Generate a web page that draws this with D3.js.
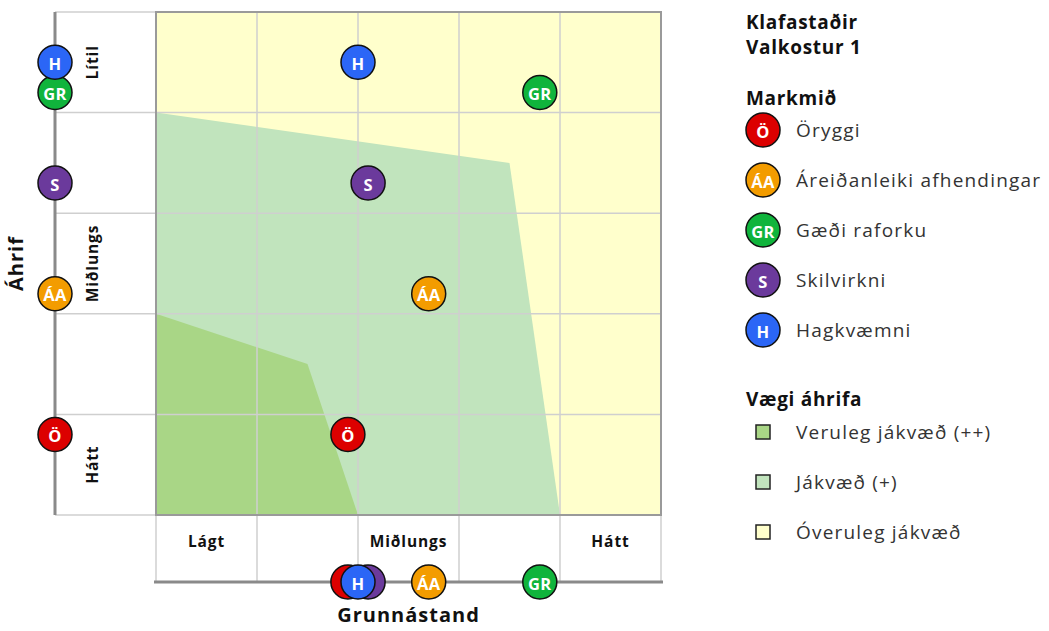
<!DOCTYPE html>
<html>
<head>
<meta charset="utf-8">
<title>Klafastaðir – Valkostur 1</title>
<script src="https://d3js.org/d3.v7.min.js"></script>
<style>
  body { margin: 0; background: #fff; }
  svg text { font-family: "Open Sans", "Noto Sans", sans-serif; }
  .grid line { stroke: #cfcfcf; stroke-width: 1.5; }
  .axisline { stroke: #8a8a8a; stroke-width: 3; }
  .catlbl { font-weight: 700; font-size: 15.5px; letter-spacing: 0.9px; fill: #111; }
  .ttl { font-weight: 700; font-size: 19px; letter-spacing: 0.7px; fill: #111; }
  .axttl { font-weight: 700; font-size: 20px; letter-spacing: 1px; fill: #111; }
  .leg { font-weight: 400; font-size: 19px; letter-spacing: 1.2px; fill: #333; }
  .badge text { fill: #fff; font-weight: 700; font-size: 16.5px; letter-spacing: 0.3px; }
</style>
</head>
<body>
<svg id="chart" width="1049" height="631"></svg>
<script>
// goals (Markmið)
const goalKeys   = ["Ö", "ÁA", "GR", "S", "H"];
const goalNames  = ["Öryggi", "Áreiðanleiki afhendingar", "Gæði raforku", "Skilvirkni", "Hagkvæmni"];
const goalColors = ["#dc0000", "#f39c00", "#10b43c", "#6b3a9c", "#2b66f6"];
// Grunnástand (x) and Áhrif (y), 0..5
const baseline = [1.9, 2.7, 3.8, 2.1, 2.0];
const impact   = [0.8, 2.2, 4.2, 3.3, 4.5];

// impact zones
const zoneStrong   = [[0, 2], [1.5, 1.5], [2, 0], [0, 0]];
const zonePositive = [[0, 4], [3.5, 3.5], [4, 0], [0, 0]];
const zoneNames  = ["Veruleg jákvæð (++)", "Jákvæð (+)", "Óveruleg jákvæð"];
const zoneColors = ["#a9d686", "#c1e4bd", "#ffffcc"];

// tick labels
const xCats = ["Lágt", "Miðlungs", "Hátt"];
const xCatPos = [0.5, 2.5, 4.5];
const yCats = ["Lítil", "Miðlungs", "Hátt"];
const yCatPos = [4.5, 2.5, 0.5];

const svg = d3.select("#chart");
const x = d3.scaleLinear().domain([0, 5]).range([156, 661]);
const y = d3.scaleLinear().domain([0, 5]).range([515, 12]);
const leftX = x(-1);        // left axis strip
const bottomY = 582;        // bottom axis line
const R = 17;

// plot background (lowest zone)
svg.append("rect")
  .attr("x", x(0)).attr("y", y(5))
  .attr("width", x(5) - x(0)).attr("height", y(0) - y(5))
  .attr("fill", zoneColors[2]);

const area = d3.line().x(d => x(d[0])).y(d => y(d[1]));
svg.append("path").attr("d", area(zonePositive) + "Z").attr("fill", zoneColors[1]);
svg.append("path").attr("d", area(zoneStrong) + "Z").attr("fill", zoneColors[0]);

// grid
const grid = svg.append("g").attr("class", "grid");
grid.selectAll("line.h").data(d3.range(0, 6)).join("line")
  .attr("x1", leftX).attr("x2", x(5))
  .attr("y1", d => y(d)).attr("y2", d => y(d));
grid.selectAll("line.v").data(d3.range(0, 6)).join("line")
  .attr("x1", d => x(d)).attr("x2", d => x(d))
  .attr("y1", y(5)).attr("y2", bottomY);

// plot border
svg.append("rect")
  .attr("x", x(0)).attr("y", y(5))
  .attr("width", x(5) - x(0)).attr("height", y(0) - y(5))
  .attr("fill", "none").attr("stroke", "#9a9a9a").attr("stroke-width", 2);

// axis lines
svg.append("line").attr("class", "axisline")
  .attr("x1", leftX).attr("x2", leftX).attr("y1", y(5)).attr("y2", y(0));
svg.append("line").attr("class", "axisline")
  .attr("x1", x(0) - 2).attr("x2", x(5) + 2).attr("y1", bottomY).attr("y2", bottomY);

// category labels
svg.selectAll("text.xc").data(xCats).join("text")
  .attr("class", "catlbl")
  .attr("x", (d, i) => x(xCatPos[i])).attr("y", 543)
  .attr("text-anchor", "middle").attr("dominant-baseline", "middle")
  .text(d => d);
svg.selectAll("text.yc").data(yCats).join("text")
  .attr("class", "catlbl")
  .attr("transform", (d, i) => `translate(94,${y(yCatPos[i])}) rotate(-90)`)
  .attr("text-anchor", "middle").attr("dominant-baseline", "middle")
  .text(d => d);

// axis titles
svg.append("text").attr("class", "axttl")
  .attr("transform", `translate(18,${(y(0) + y(5)) / 2}) rotate(-90)`)
  .attr("text-anchor", "middle").attr("dominant-baseline", "middle")
  .text("Áhrif");
svg.append("text").attr("class", "axttl")
  .attr("x", x(2.5)).attr("y", 617)
  .attr("text-anchor", "middle").attr("dominant-baseline", "middle")
  .text("Grunnástand");

function badge(g, key, color) {
  g.attr("class", "badge");
  g.append("circle").attr("r", R).attr("fill", color)
    .attr("stroke", "#111").attr("stroke-width", 1.5);
  g.append("text").attr("text-anchor", "middle").attr("dominant-baseline", "central")
    .attr("y", 1).text(key);
}

const idx = d3.range(goalKeys.length);
// on left axis
idx.forEach(i => badge(svg.append("g").attr("transform", `translate(${leftX},${y(impact[i])})`), goalKeys[i], goalColors[i]));
// on bottom axis
idx.forEach(i => badge(svg.append("g").attr("transform", `translate(${x(baseline[i])},${bottomY})`), goalKeys[i], goalColors[i]));
// in plot
idx.forEach(i => badge(svg.append("g").attr("transform", `translate(${x(baseline[i])},${y(impact[i])})`), goalKeys[i], goalColors[i]));

// legend
const lg = svg.append("g").attr("transform", "translate(746,0)");
lg.append("text").attr("class", "ttl").attr("x", 0).attr("y", 29).text("Klafastaðir");
lg.append("text").attr("class", "ttl").attr("x", 0).attr("y", 54).text("Valkostur 1");
lg.append("text").attr("class", "ttl").attr("x", 0).attr("y", 105).text("Markmið");
idx.forEach(i => {
  const yy = 130 + i * 50;
  badge(lg.append("g").attr("transform", `translate(17,${yy})`), goalKeys[i], goalColors[i]);
  lg.append("text").attr("class", "leg").attr("x", 50).attr("y", yy)
    .attr("dominant-baseline", "central").text(goalNames[i]);
});
lg.append("text").attr("class", "ttl").attr("x", 0).attr("y", 406).text("Vægi áhrifa");
zoneNames.forEach((n, i) => {
  const yy = 432 + i * 50;
  lg.append("rect").attr("x", 10).attr("y", yy - 7).attr("width", 14).attr("height", 14)
    .attr("fill", zoneColors[i]).attr("stroke", "#222").attr("stroke-width", 1.5);
  lg.append("text").attr("class", "leg").attr("x", 50).attr("y", yy)
    .attr("dominant-baseline", "central").text(n);
});
</script>
</body>
</html>
